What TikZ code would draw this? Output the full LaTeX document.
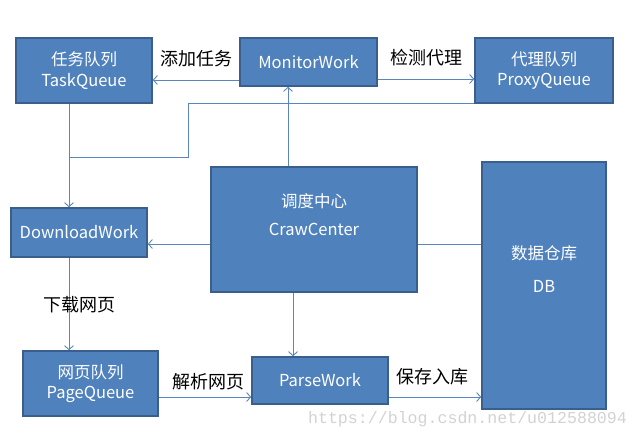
\documentclass[tikz,border=0pt]{standalone}
\usepackage{fontspec}
\setmainfont{Noto Sans CJK SC}
\newfontfamily\markfont{Liberation Mono}
\usepackage{xcolor}
\usepackage{tikz}
\usetikzlibrary{arrows.meta, positioning, calc}
\definecolor{boxfill}{HTML}{4F81BD}
\definecolor{boxedge}{HTML}{3A5F8C}
\definecolor{linkcolor}{HTML}{5A86BE}

\begin{document}
\begin{tikzpicture}[
        x=1pt, y=-1pt,
        box/.style={rectangle, draw=boxedge, fill=boxfill, line width=1.6pt,
                    text=white, align=center, inner sep=1pt,
                    font=\fontsize{16.5}{20.5}\selectfont},
        lbl/.style={text=black, inner sep=0pt, font=\fontsize{18}{20}\selectfont},
        conn/.style={draw=linkcolor, line width=0.9pt},
        arr/.style={conn, -{Straight Barb[length=4pt, width=9pt]}}
    ]
        \useasboundingbox (0,0) rectangle (639,440);

        % queues and workers
        \node[box, minimum width=136pt, minimum height=65pt] (task) at (84,70.5) {任务队列\\TaskQueue};
        \node[box, minimum width=137pt, minimum height=48pt] (monitor) at (308.5,62) {MonitorWork};
        \node[box, minimum width=138pt, minimum height=65pt] (proxy) at (544,70.5) {代理队列\\ProxyQueue};
        \node[box, minimum width=136pt, minimum height=49pt] (download) at (79,232.5) {DownloadWork};
        \node[box, minimum width=206pt, minimum height=125pt, text depth=30pt] (center) at (314,229.5) {调度中心\\[7pt]CrawCenter};
        \node[box, minimum width=124pt, minimum height=247pt, text depth=33pt] (db) at (544,285.5) {数据仓库\\[12pt]DB};
        \node[box, minimum width=135pt, minimum height=65pt] (page) at (90.5,383.5) {网页队列\\PageQueue};
        \node[box, minimum width=136pt, minimum height=47pt] (parse) at (320,380.5) {ParseWork};

        \coordinate (trunk) at (69,157);
        \coordinate (bend) at (188,157);

        % connectors
        \draw[arr] ([yshift=-18pt]monitor.west) -- ([yshift=-18pt]monitor.west -| task.east);
        \draw[arr] ([yshift=-17pt]monitor.east) -- ([yshift=-17pt]monitor.east -| proxy.west);
        \draw[conn] (proxy.south west) -| (bend) -- (trunk);
        \draw[arr] (task.south -| trunk) -- (download.north -| trunk);
        \draw[arr] ([yshift=-14.5pt]center.west) -- ([yshift=-14.5pt]center.west -| download.east);
        \draw[conn] ([yshift=-14.5pt]center.east) -- ([yshift=-14.5pt]center.east -| db.west);
        \draw[arr] ([xshift=-26pt]center.north) -- ([xshift=-26pt]center.north |- monitor.south);
        \draw[arr] ([xshift=-21pt]center.south) -- ([xshift=-21pt]center.south |- parse.north);
        \draw[arr] (download.south -| trunk) -- (page.north -| trunk);
        \draw[arr] ([yshift=-13.5pt]page.east) -- ([yshift=-13.5pt]page.east -| parse.west);
        \draw[arr] ([yshift=-16.5pt]parse.east) -- ([yshift=-16.5pt]parse.east -| db.west);

        % labels
        \node[lbl] (addtask) at (196.5,58.5) {添加任务};
        \node[lbl] (checkproxy) at (426.5,58) {检测代理};
        \node[lbl] (fetchpage) at (79,305) {下载网页};
        \node[lbl] (parsepage) at (208.5,382) {解析网页};
        \node[lbl] (store) at (432.5,377) {保存入库};

        \node[text=gray!35, inner sep=0pt, font=\markfont\fontsize{16.6}{18}\selectfont] (mark) at (467.5,419) {https://blog.csdn.net/u012588094};
    \end{tikzpicture}
\end{document}
